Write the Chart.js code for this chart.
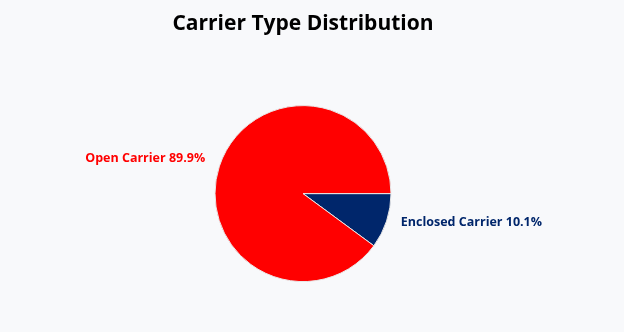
<!DOCTYPE html>
<html>
<head>
<meta charset="utf-8">
<script src="https://cdn.jsdelivr.net/npm/chart.js@4"></script>
<style>
  html, body { margin: 0; padding: 0; background: #f8f9fb; }
  #wrap { width: 624px; height: 332px; }
</style>
</head>
<body>
<div id="wrap"><canvas id="pieCanvas"></canvas></div>
<script>
// data (order: starts at 3 o'clock, clockwise)
var labels = ['Enclosed Carrier', 'Open Carrier'];
var shares = [10.1, 89.9];
var colors = ['#00266B', '#FF0000'];

// draws "Label xx.x%" just outside each slice, like a classic pie label
var outsideLabels = {
    id: 'outsideLabels',
    afterDatasetsDraw: function (chart) {
        var ctx = chart.ctx;
        var meta = chart.getDatasetMeta(0);
        ctx.save();
        ctx.font = 'bold 12.5px "Open Sans", sans-serif';
        ctx.textBaseline = 'middle';
        meta.data.forEach(function (arc, i) {
            var mid = (arc.startAngle + arc.endAngle) / 2;
            var dist = arc.outerRadius * 1.17;
            var x = arc.x + Math.cos(mid) * dist;
            var y = arc.y + Math.sin(mid) * dist - 3;
            ctx.fillStyle = colors[i];
            ctx.textAlign = Math.cos(mid) < 0 ? 'right' : 'left';
            ctx.fillText(labels[i] + ' ' + shares[i].toFixed(1) + '%', x, y);
        });
        ctx.restore();
    }
};

var pieChart = new Chart(document.getElementById('pieCanvas'), {
    type: 'pie',
    data: {
        labels: labels,
        datasets: [{
            data: shares,
            backgroundColor: colors,
            borderColor: '#e8e8e8',
            borderWidth: 1
        }]
    },
    options: {
        responsive: true,
        maintainAspectRatio: false,
        animation: false,
        rotation: 90,
        radius: 88,
        layout: { padding: { left: 0, right: 18, top: 0, bottom: 0 } },
        plugins: {
            legend: { display: false },
            tooltip: { enabled: false },
            title: {
                display: true,
                text: 'Carrier Type Distribution',
                color: '#000',
                font: { family: '"Open Sans", sans-serif', size: 21, weight: 'bold' },
                padding: { top: 11, bottom: 19 }
            }
        }
    },
    plugins: [outsideLabels]
});
</script>
</body>
</html>
